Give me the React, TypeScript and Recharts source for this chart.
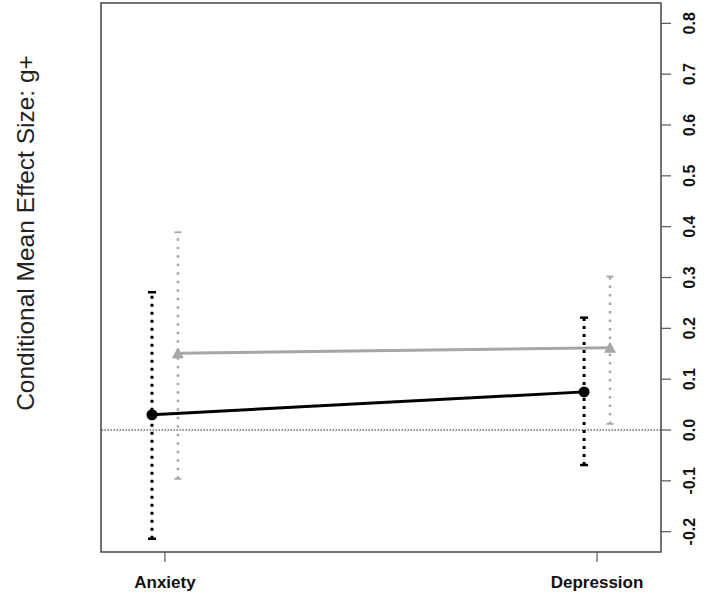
import {
  ComposedChart,
  XAxis,
  YAxis,
  Line,
  Scatter,
  ReferenceLine,
  ReferenceArea,
  Label,
} from "recharts";

const categories = ["Anxiety", "Depression"];
const catPos = [1, 2];

// black series (left-shifted) and grey series (right-shifted)
const blackOffset = -0.03;
const blackMean = [0.03, 0.075];
const blackLower = [-0.214, -0.069];
const blackUpper = [0.271, 0.221];

const grayOffset = 0.03;
const grayMean = [0.151, 0.162];
const grayLower = [-0.096, 0.012];
const grayUpper = [0.389, 0.302];

const yTicks = [-0.2, -0.1, 0, 0.1, 0.2, 0.3, 0.4, 0.5, 0.6, 0.7, 0.8];
const xDomain = [0.852, 2.148];
const yDomain = [-0.24, 0.84];

const FONT = "'Liberation Sans', Arial, Helvetica, sans-serif";
const BLACK = "#000000";
const GRAY = "#a6a6a6";

const points = (vals: number[], offset: number) =>
  vals.map((v, i) => ({ x: catPos[i] + offset, y: v }));

const caps = (lo: number[], hi: number[], offset: number) => [
  ...points(lo, offset),
  ...points(hi, offset),
];

const XTick = ({ x, y, payload }: any) => (
  <text
    x={x}
    y={y + 24}
    textAnchor="middle"
    fontFamily={FONT}
    fontWeight="bold"
    fontSize={17}
    fill="#111"
  >
    {categories[catPos.indexOf(payload.value)]}
  </text>
);

const YTick = ({ x, y, payload }: any) => (
  <text
    transform={`translate(${x + 22},${y}) rotate(-90)`}
    textAnchor="middle"
    fontFamily={FONT}
    fontWeight="bold"
    fontSize={16}
    fill="#111"
  >
    {Number(payload.value).toFixed(1)}
  </text>
);

const capShape = (color: string, half: number, w: number) => (props: any) => (
  <line
    x1={props.cx - half}
    x2={props.cx + half}
    y1={props.cy}
    y2={props.cy}
    stroke={color}
    strokeWidth={w}
  />
);

const Dot = ({ cx, cy }: any) => <circle cx={cx} cy={cy} r={5.5} fill={BLACK} />;

const Tri = ({ cx, cy }: any) => (
  <polygon
    points={`${cx},${cy - 6} ${cx - 6},${cy + 5} ${cx + 6},${cy + 5}`}
    fill={GRAY}
  />
);

export default function App() {
  return (
    <div style={{ position: "absolute", left: 0, top: 0, background: "#fff" }}>
      <ComposedChart
        width={714}
        height={600}
        margin={{ top: 3, right: 0, bottom: 0, left: 0 }}
      >
        <XAxis
          type="number"
          dataKey="x"
          domain={xDomain}
          allowDataOverflow
          ticks={catPos}
          interval={0}
          tick={<XTick />}
          tickSize={10}
          tickLine={{ stroke: "#555", strokeWidth: 1.2 }}
          axisLine={false}
          height={48}
        />
        <YAxis
          yAxisId="left"
          orientation="left"
          width={101}
          domain={yDomain}
          tick={false}
          tickLine={false}
          axisLine={false}
        >
          <Label
            content={() => (
              <text
                transform="translate(34,233) rotate(-90)"
                textAnchor="middle"
                fontFamily={FONT}
                fontSize={24.5}
                fill="#222"
              >
                Conditional Mean Effect Size: g+
              </text>
            )}
          />
        </YAxis>
        <YAxis
          orientation="right"
          dataKey="y"
          width={53}
          domain={yDomain}
          allowDataOverflow
          ticks={yTicks}
          interval={0}
          tick={<YTick />}
          tickSize={10}
          tickLine={{ stroke: "#555", strokeWidth: 1.2 }}
          axisLine={false}
        />

        <ReferenceLine y={0} stroke="#222" strokeWidth={1} strokeDasharray="1.5 1.5" />

        {/* error bars: dotted whiskers */}
        {catPos.map((_, i) => (
          <Line
            key={"bw" + i}
            data={[
              { x: catPos[i] + blackOffset, y: blackLower[i] },
              { x: catPos[i] + blackOffset, y: blackUpper[i] },
            ]}
            dataKey="y"
            stroke={BLACK}
            strokeWidth={3}
            strokeDasharray="3 5"
            dot={false}
            isAnimationActive={false}
          />
        ))}
        {catPos.map((_, i) => (
          <Line
            key={"gw" + i}
            data={[
              { x: catPos[i] + grayOffset, y: grayLower[i] },
              { x: catPos[i] + grayOffset, y: grayUpper[i] },
            ]}
            dataKey="y"
            stroke={GRAY}
            strokeWidth={2.5}
            strokeDasharray="2.5 6"
            dot={false}
            isAnimationActive={false}
          />
        ))}
        <Scatter
          data={caps(blackLower, blackUpper, blackOffset)}
          dataKey="y"
          shape={capShape(BLACK, 4, 2.5)}
          isAnimationActive={false}
        />
        <Scatter
          data={caps(grayLower, grayUpper, grayOffset)}
          dataKey="y"
          shape={capShape(GRAY, 3.5, 1.8)}
          isAnimationActive={false}
        />

        {/* means */}
        <Line
          data={points(grayMean, grayOffset)}
          dataKey="y"
          stroke={GRAY}
          strokeWidth={3}
          dot={false}
          isAnimationActive={false}
        />
        <Line
          data={points(blackMean, blackOffset)}
          dataKey="y"
          stroke={BLACK}
          strokeWidth={3}
          dot={false}
          isAnimationActive={false}
        />
        <Scatter
          data={points(grayMean, grayOffset)}
          dataKey="y"
          shape={<Tri />}
          isAnimationActive={false}
        />
        <Scatter
          data={points(blackMean, blackOffset)}
          dataKey="y"
          shape={<Dot />}
          isAnimationActive={false}
        />

        <ReferenceArea
          x1={xDomain[0]}
          x2={xDomain[1]}
          y1={yDomain[0]}
          y2={yDomain[1]}
          fill="none"
          stroke="#444"
          strokeWidth={1.5}
          ifOverflow="visible"
        />
      </ComposedChart>
    </div>
  );
}
